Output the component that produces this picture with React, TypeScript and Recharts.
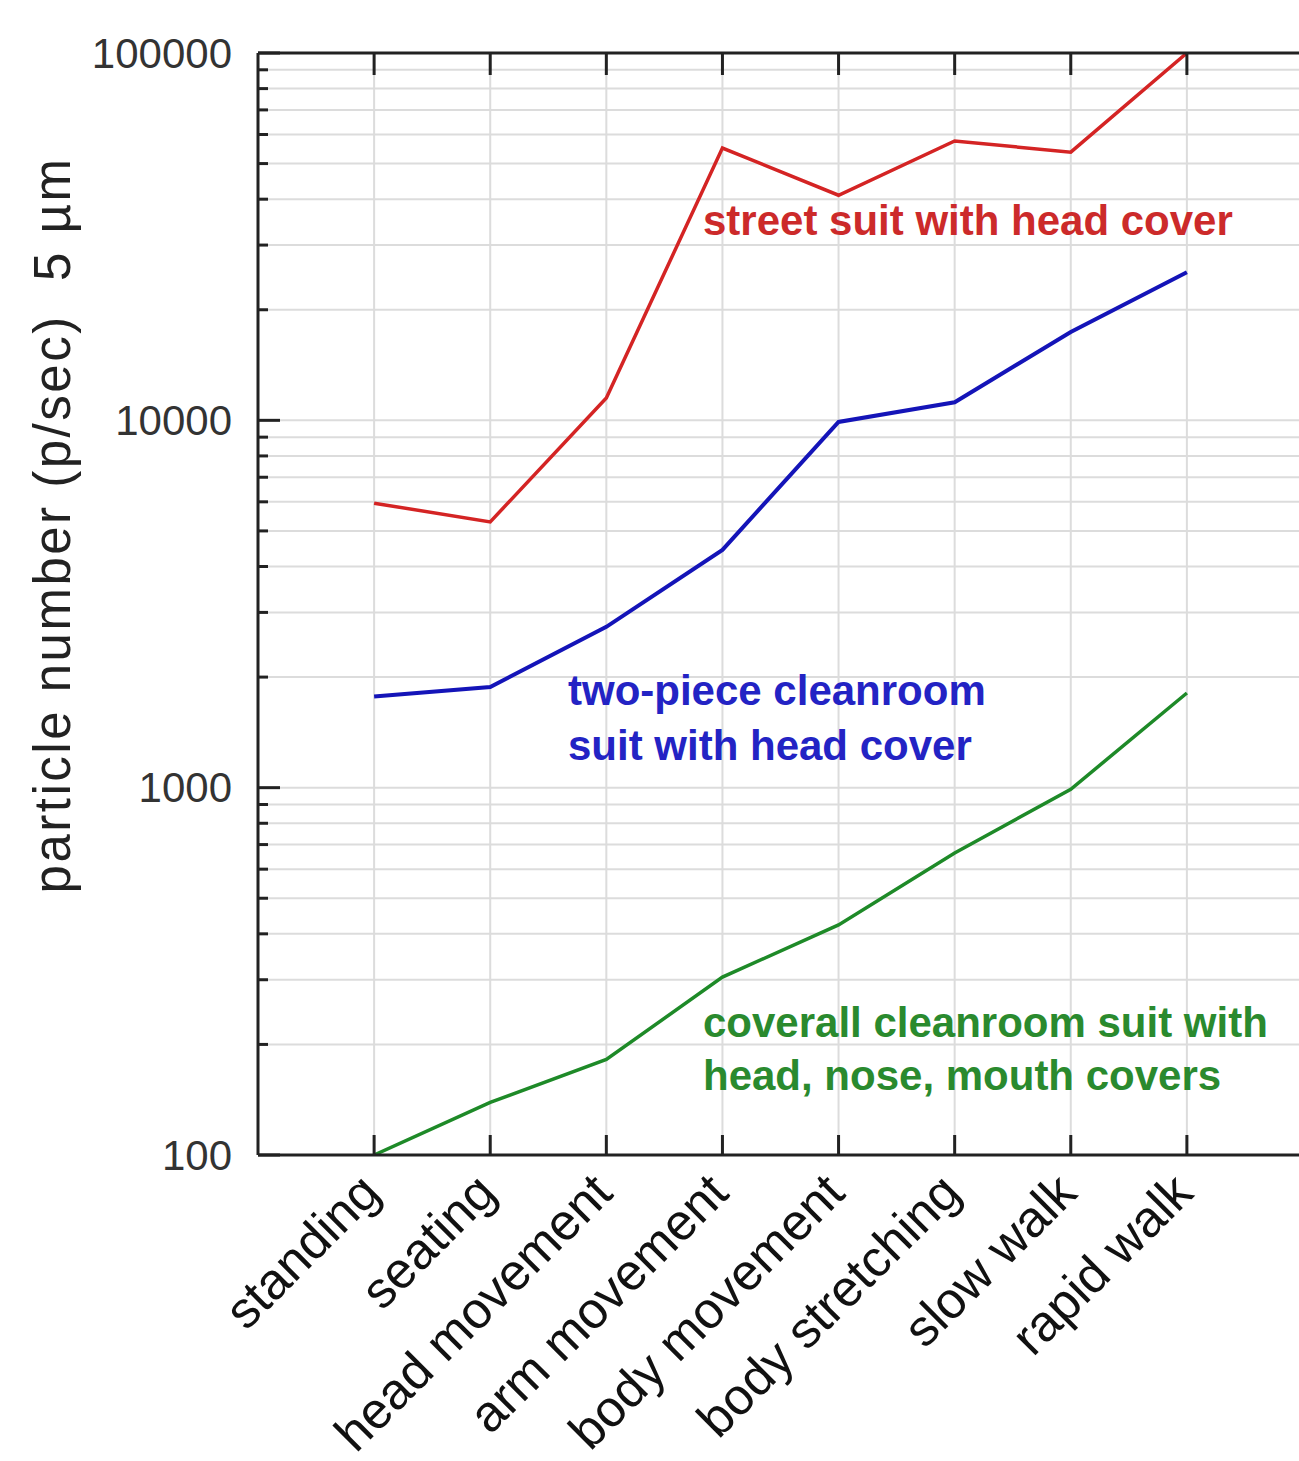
import React from "react";
import { LineChart, Line, XAxis, YAxis, CartesianGrid, Customized } from "recharts";

// activities along the x axis
const categories = [
  "standing",
  "seating",
  "head movement",
  "arm movement",
  "body movement",
  "body stretching",
  "slow walk",
  "rapid walk",
];

// particles per second, 5 µm
const streetSuit = [5950, 5290, 11500, 55100, 41000, 57600, 53700, 100000];
const twoPieceSuit = [1770, 1880, 2740, 4440, 9900, 11200, 17400, 25300];
const coverallSuit = [100, 139, 182, 305, 423, 664, 990, 1810];

const decadeTicks = [100, 1000, 10000, 100000];
const logTicks = [
  100, 200, 300, 400, 500, 600, 700, 800, 900,
  1000, 2000, 3000, 4000, 5000, 6000, 7000, 8000, 9000,
  10000, 20000, 30000, 40000, 50000, 60000, 70000, 80000, 90000,
  100000,
];
const xTicks = [1, 2, 3, 4, 5, 6, 7, 8];

const data = categories.map((name, i) => ({
  x: i + 1,
  name,
  street: streetSuit[i],
  twoPiece: twoPieceSuit[i],
  coverall: coverallSuit[i],
}));

const FONT = "'Liberation Sans', Arial, Helvetica, sans-serif";
const AXIS = "#222";

const LeftTick = (props: any) => {
  const { x, y, payload } = props;
  const major = decadeTicks.includes(payload.value);
  return (
    <g>
      <line x1={x} y1={y} x2={x + (major ? 22 : 10)} y2={y} stroke={AXIS} strokeWidth={3} />
      {major && (
        <text x={x - 26} y={y} textAnchor="end" dominantBaseline="central" fontSize={42} fill="#333" fontFamily={FONT}>
          {payload.value}
        </text>
      )}
    </g>
  );
};

const RightTick = (props: any) => {
  const { x, y, payload } = props;
  const major = decadeTicks.includes(payload.value);
  return <line x1={x} y1={y} x2={x - (major ? 22 : 10)} y2={y} stroke={AXIS} strokeWidth={3} />;
};

const BottomTick = (props: any) => {
  const { x, y, payload } = props;
  const label = categories[payload.value - 1];
  const px = x - 4;
  const py = y + 28;
  return (
    <g>
      <line x1={x} y1={y} x2={x} y2={y - 20} stroke={AXIS} strokeWidth={3} />
      <text
        x={px}
        y={py}
        textAnchor="end"
        dominantBaseline="central"
        fontSize={51}
        fill="#111"
        fontFamily={FONT}
        transform={`rotate(-45 ${px} ${py})`}
      >
        {label}
      </text>
    </g>
  );
};

const TopTick = (props: any) => {
  const { x, y } = props;
  return <line x1={x} y1={y} x2={x} y2={y + 22} stroke={AXIS} strokeWidth={3} />;
};

const Annotations = () => (
  <g fontFamily={FONT} fontWeight="bold" fontSize={42}>
    <text
      x={52}
      y={525}
      textAnchor="middle"
      dominantBaseline="central"
      fontWeight="normal"
      fontSize={51}
      letterSpacing={2.5}
      fill="#222"
      transform="rotate(-90 52 525)"
      style={{ whiteSpace: "pre" }}
    >
      {"particle number (p/sec)  5 µm"}
    </text>
    <text x={703} y={235} fill="#cc2a2a">street suit with head cover</text>
    <text x={568} y={705} fill="#2323c4">two-piece cleanroom</text>
    <text x={568} y={760} fill="#2323c4">suit with head cover</text>
    <text x={703} y={1037} fill="#2a8a2e">coverall cleanroom suit with</text>
    <text x={703} y={1090} fill="#2a8a2e">head, nose, mouth covers</text>
  </g>
);

export default function App() {
  return (
    <div style={{ position: "absolute", left: 0, top: 0, width: 1299, height: 1461, overflow: "hidden", background: "#fff" }}>
      <LineChart width={1303} height={1461} data={data} margin={{ top: 0, right: 0, bottom: 0, left: 0 }}>
        <CartesianGrid xAxisId="bottom" yAxisId="left" stroke="#dcdcdc" strokeWidth={2} />
        <XAxis
          xAxisId="bottom"
          dataKey="x"
          type="number"
          domain={[0, 9]}
          ticks={xTicks}
          height={306}
          tickLine={false}
          tickSize={0}
          tickMargin={0}
          interval={0}
          axisLine={{ stroke: AXIS, strokeWidth: 3 }}
          tick={<BottomTick />}
        />
        <XAxis
          xAxisId="top"
          orientation="top"
          dataKey="x"
          type="number"
          domain={[0, 9]}
          ticks={xTicks}
          height={53}
          tickLine={false}
          tickSize={0}
          tickMargin={0}
          interval={0}
          axisLine={{ stroke: AXIS, strokeWidth: 3 }}
          tick={<TopTick />}
        />
        <YAxis
          yAxisId="left"
          scale="log"
          domain={[100, 100000]}
          ticks={logTicks}
          width={258}
          tickLine={false}
          tickSize={0}
          tickMargin={0}
          interval={0}
          allowDataOverflow
          axisLine={{ stroke: AXIS, strokeWidth: 3 }}
          tick={<LeftTick />}
        />
        <YAxis
          yAxisId="right"
          orientation="right"
          scale="log"
          domain={[100, 100000]}
          ticks={logTicks}
          width={0}
          tickLine={false}
          tickSize={0}
          tickMargin={0}
          interval={0}
          allowDataOverflow
          axisLine={{ stroke: AXIS, strokeWidth: 3 }}
          tick={<RightTick />}
        />
        <Line xAxisId="bottom" yAxisId="left" type="linear" dataKey="street" stroke="#d42424" strokeWidth={3.5} dot={false} isAnimationActive={false} />
        <Line xAxisId="bottom" yAxisId="left" type="linear" dataKey="twoPiece" stroke="#1414b8" strokeWidth={4} dot={false} isAnimationActive={false} />
        <Line xAxisId="bottom" yAxisId="left" type="linear" dataKey="coverall" stroke="#1e8a28" strokeWidth={3.5} dot={false} isAnimationActive={false} />
        <Customized component={Annotations} />
      </LineChart>
    </div>
  );
}
